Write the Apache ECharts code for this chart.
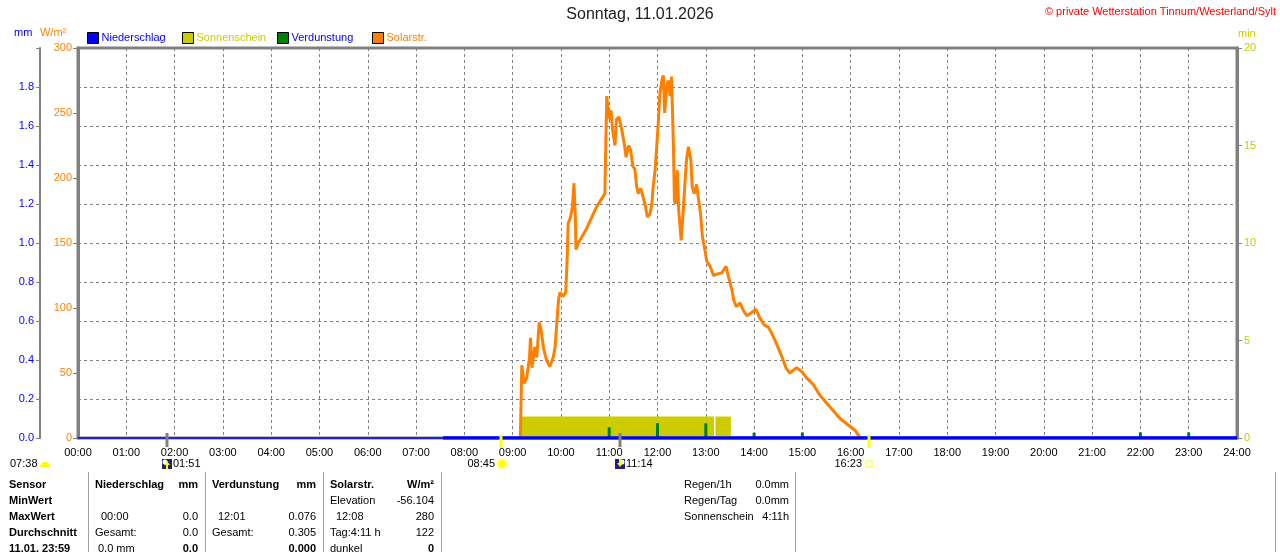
<!DOCTYPE html>
<html>
<head>
<meta charset="utf-8">
<script src="https://cdn.jsdelivr.net/npm/echarts@6/dist/echarts.min.js"></script>
<style>
  html, body { margin: 0; padding: 0; background: #fff; }
  #main { width: 1280px; height: 552px; }
</style>
</head>
<body>
<div id="main"></div>
<script>
// ---- data (time in decimal hours) ----

// Solarstrahlung W/m²  [hour, value]
const solarData = [
  [9.16, 0], [9.17, 1], [9.19, 56], [9.24, 42], [9.29, 46], [9.35, 62], [9.37, 77], [9.40, 54],
  [9.46, 70], [9.50, 62], [9.55, 89], [9.59, 83], [9.64, 69], [9.70, 60], [9.77, 55], [9.84, 62],
  [9.88, 70], [9.91, 86], [9.95, 106], [9.98, 112], [10.05, 109], [10.10, 112], [10.13, 138],
  [10.15, 165], [10.20, 170], [10.24, 178], [10.27, 196], [10.30, 169], [10.31, 145], [10.36, 150],
  [10.53, 161], [10.74, 178], [10.91, 188], [10.93, 227], [10.95, 263], [10.98, 250], [11.02, 245],
  [11.04, 252], [11.07, 237], [11.12, 225], [11.15, 245], [11.20, 247], [11.26, 237], [11.31, 227],
  [11.35, 216], [11.40, 225], [11.44, 222], [11.49, 209], [11.53, 207], [11.57, 193], [11.60, 188],
  [11.65, 192], [11.69, 187], [11.74, 180], [11.79, 170], [11.84, 172], [11.88, 179], [11.91, 193],
  [11.95, 206], [11.98, 222], [12.02, 245], [12.05, 265], [12.09, 275], [12.12, 279], [12.15, 250],
  [12.19, 270], [12.22, 275], [12.26, 263], [12.29, 278], [12.31, 252], [12.33, 224], [12.35, 183],
  [12.37, 180], [12.41, 206], [12.44, 175], [12.49, 152], [12.52, 168], [12.56, 191], [12.60, 214],
  [12.64, 224], [12.69, 214], [12.72, 193], [12.76, 188], [12.81, 195], [12.84, 186], [12.89, 173],
  [12.93, 155], [12.98, 145], [13.02, 136], [13.09, 132], [13.16, 125], [13.23, 126], [13.33, 127],
  [13.42, 132], [13.47, 124], [13.54, 114], [13.58, 106], [13.63, 101], [13.71, 104], [13.78, 98],
  [13.85, 94], [13.93, 96], [14.04, 99], [14.11, 93], [14.21, 87], [14.30, 85], [14.36, 81],
  [14.47, 72], [14.57, 63], [14.66, 54], [14.74, 50], [14.88, 54], [14.99, 51], [15.09, 46],
  [15.23, 41], [15.36, 33], [15.50, 27], [15.64, 21], [15.78, 15], [15.95, 10], [16.09, 6],
  [16.18, 1], [16.20, 0]
];

// Sonnenschein min  [from, to, value]
const sunData = [
  [9.17, 13.17, 1.1],
  [13.20, 13.52, 1.1]
];

// Verdunstung mm
const evapHours = [11, 12, 13, 14, 15, 22, 23];
const evapValues = [0.055, 0.076, 0.075, 0.027, 0.028, 0.029, 0.029];

// Niederschlag mm
const rainData = [[7.56, 0], [24, 0]];

// Sonne / Mond Auf- und Untergang
const astroHours = [1.85, 8.75, 11.23, 16.38];
const astroLabels = ['01:51', '08:45', '11:14', '16:23'];
const astroKinds = ['moonrise', 'sunrise', 'moonset', 'sunset'];

const FONT = 'Liberation Sans';
const GRID = '#808080';
const pad = (n) => (n < 10 ? '0' : '') + n;

const myChart = echarts.init(document.getElementById('main'), null, { renderer: 'canvas' });

function sunRender(params, api) {
  const s = api.coord([api.value(0), api.value(2)]);
  const e = api.coord([api.value(1), 0]);
  return {
    type: 'rect',
    shape: { x: s[0], y: s[1], width: e[0] - s[0], height: e[1] - s[1] },
    style: { fill: '#cccc00' }
  };
}

function astroRender(params, api) {
  const i = params.dataIndex;
  const p = api.coord([api.value(0), 0]);
  const x = Math.round(p[0]);
  const kind = astroKinds[i];
  const isMoon = kind.indexOf('moon') === 0;
  const children = [];
  children.push({
    type: 'rect',
    shape: { x: x - 1.5, y: isMoon ? p[1] - 5 : p[1] - 3, width: 3, height: isMoon ? 14 : 13 },
    style: { fill: isMoon ? GRID : '#ffff00' }
  });
  const ty = 464;
  if (kind === 'sunrise') {
    children.push({ type: 'circle', shape: { cx: x + 1, cy: ty, r: 6 }, style: { fill: 'rgba(255,255,120,0.5)' } });
    children.push({ type: 'circle', shape: { cx: x + 1, cy: ty, r: 4 }, style: { fill: '#ffff00' } });
    children.push({ type: 'text', style: { x: x - 6, y: ty, text: astroLabels[i], align: 'right', verticalAlign: 'middle', font: '11px ' + FONT, fill: '#000' } });
  } else if (kind === 'sunset') {
    children.push({ type: 'rect', shape: { x: x - 3, y: ty - 3, width: 6, height: 6 }, style: { fill: '#fff', stroke: '#ffff00', lineWidth: 1 } });
    children.push({ type: 'text', style: { x: x - 7, y: ty, text: astroLabels[i], align: 'right', verticalAlign: 'middle', font: '11px ' + FONT, fill: '#000' } });
  } else {
    const rise = kind === 'moonrise';
    children.push({ type: 'rect', shape: { x: x - 5, y: ty - 5, width: 10, height: 10 }, style: { fill: '#202080' } });
    children.push({ type: 'circle', shape: { cx: rise ? x - 2 : x + 2, cy: ty - 2, r: 2.5 }, style: { fill: '#ffffff' } });
    children.push({
      type: 'polygon',
      shape: { points: rise ? [[x, ty - 3], [x + 3, ty + 1], [x + 1, ty + 1], [x + 1, ty + 5], [x - 1, ty + 5], [x - 1, ty + 1], [x - 3, ty + 1]]
                            : [[x - 1, ty - 5], [x + 1, ty - 5], [x + 1, ty - 1], [x + 3, ty - 1], [x, ty + 3], [x - 3, ty - 1], [x - 1, ty - 1]] },
      style: { fill: '#ffff00' }
    });
    children.push({ type: 'text', style: { x: x + 6, y: ty, text: astroLabels[i], align: 'left', verticalAlign: 'middle', font: '11px ' + FONT, fill: '#000' } });
  }
  return { type: 'group', children };
}

// ---- texts and table below the chart ----
const graphics = [];
function txt(x, y, text, opt) {
  opt = opt || {};
  graphics.push({
    type: 'text', x, y, silent: true,
    style: {
      text, x: 0, y: 0,
      align: opt.align || 'left', verticalAlign: 'middle',
      font: (opt.bold ? 'bold ' : '') + (opt.size || 11) + 'px ' + FONT,
      fill: opt.color || '#000'
    }
  });
}
function vline(x, y1, y2, color) {
  graphics.push({ type: 'line', silent: true, shape: { x1: x, y1, x2: x, y2 }, style: { stroke: color || '#a0a0a0', lineWidth: 1 } });
}

txt(14, 33, 'mm', { color: '#0000ff' });
txt(40, 33, 'W/m²', { color: '#ff8000' });
txt(1238, 34, 'min', { color: '#cccc00' });
txt(1276, 12, '© private Wetterstation Tinnum/Westerland/Sylt', { color: '#ff0000', align: 'right' });

txt(10, 464, '07:38');
graphics.push({ type: 'sector', silent: true, shape: { cx: 45, cy: 467, r0: 0, r: 5, startAngle: Math.PI, endAngle: 2 * Math.PI }, style: { fill: '#ffff00' } });

[88, 205, 323, 441, 795, 1275].forEach((x) => vline(x + 0.5, 472, 552));

const rowY = [485, 501, 517, 533, 549];
const rowNames = ['Sensor', 'MinWert', 'MaxWert', 'Durchschnitt', '11.01. 23:59'];
rowNames.forEach((n, i) => txt(9, rowY[i], n, { bold: true }));

txt(95, rowY[0], 'Niederschlag', { bold: true });
txt(198, rowY[0], 'mm', { bold: true, align: 'right' });
txt(212, rowY[0], 'Verdunstung', { bold: true });
txt(316, rowY[0], 'mm', { bold: true, align: 'right' });
txt(330, rowY[0], 'Solarstr.', { bold: true });
txt(434, rowY[0], 'W/m²', { bold: true, align: 'right' });

txt(330, rowY[1], 'Elevation');
txt(434, rowY[1], '-56.104', { align: 'right' });

txt(101, rowY[2], '00:00');
txt(198, rowY[2], '0.0', { align: 'right' });
txt(218, rowY[2], '12:01');
txt(316, rowY[2], '0.076', { align: 'right' });
txt(336, rowY[2], '12:08');
txt(434, rowY[2], '280', { align: 'right' });

txt(95, rowY[3], 'Gesamt:');
txt(198, rowY[3], '0.0', { align: 'right' });
txt(212, rowY[3], 'Gesamt:');
txt(316, rowY[3], '0.305', { align: 'right' });
txt(330, rowY[3], 'Tag:4:11 h');
txt(434, rowY[3], '122', { align: 'right' });

txt(98, rowY[4], '0.0 mm');
txt(198, rowY[4], '0.0', { align: 'right', bold: true });
txt(316, rowY[4], '0.000', { align: 'right', bold: true });
txt(330, rowY[4], 'dunkel');
txt(434, rowY[4], '0', { align: 'right', bold: true });

txt(684, rowY[0], 'Regen/1h');
txt(789, rowY[0], '0.0mm', { align: 'right' });
txt(684, rowY[1], 'Regen/Tag');
txt(789, rowY[1], '0.0mm', { align: 'right' });
txt(684, rowY[2], 'Sonnenschein');
txt(789, rowY[2], '4:11h', { align: 'right' });

const legendItem = (name, left, color) => ({
  data: [name],
  left, top: 32,
  icon: 'rect', itemWidth: 11, itemHeight: 11,
  itemStyle: { borderColor: '#000', borderWidth: 1 },
  selectedMode: false,
  padding: 0,
  textStyle: { color, fontFamily: FONT, fontSize: 11, padding: [0, 0, 0, -2] }
});

const option = {
  animation: false,
  backgroundColor: '#fff',
  textStyle: { fontFamily: FONT },
  title: {
    text: 'Sonntag, 11.01.2026',
    left: 'center', top: 7, padding: 0,
    textStyle: { fontFamily: FONT, fontSize: 16, fontWeight: 'normal', color: '#202020' }
  },
  legend: [
    legendItem('Niederschlag', 87, '#0000ff'),
    legendItem('Sonnenschein', 182, '#cccc00'),
    legendItem('Verdunstung', 277, '#0000ff'),
    legendItem('Solarstr.', 372, '#ff8000')
  ],
  grid: {
    left: 78, right: 43, top: 48, bottom: 114,
    show: true, borderColor: GRID, borderWidth: 3, backgroundColor: 'transparent'
  },
  xAxis: {
    type: 'value', min: 0, max: 24, interval: 1,
    axisLine: { onZero: false, lineStyle: { color: '#0000ff', width: 1.5 } },
    axisTick: { show: false },
    axisLabel: { color: '#000', fontSize: 11, margin: 9, formatter: (v) => pad(v) + ':00' },
    splitLine: { show: true, lineStyle: { color: GRID, type: [3, 3], width: 1 } }
  },
  yAxis: [
    {
      type: 'value', min: 0, max: 2, interval: 0.2, position: 'left', offset: 38,
      axisLine: { show: true, onZero: false, lineStyle: { color: GRID, width: 2 } },
      axisTick: { show: true, length: 4, lineStyle: { color: GRID, width: 1 } },
      axisLabel: { color: '#0000ff', fontSize: 11, margin: 6, formatter: (v) => (v >= 1.99 ? '' : v.toFixed(1)) },
      splitLine: { show: true, lineStyle: { color: GRID, type: [3, 3], width: 1 } }
    },
    {
      type: 'value', min: 0, max: 300, interval: 50, position: 'left', offset: 0,
      axisLine: { show: true, onZero: false, lineStyle: { color: GRID, width: 3 } },
      axisTick: { show: true, length: 5, lineStyle: { color: GRID, width: 1 } },
      axisLabel: { color: '#ff8000', fontSize: 11, margin: 6 },
      splitLine: { show: false }
    },
    {
      type: 'value', min: 0, max: 20, interval: 5, position: 'right',
      axisLine: { show: true, onZero: false, lineStyle: { color: GRID, width: 3 } },
      axisTick: { show: true, length: 5, lineStyle: { color: GRID, width: 1 } },
      axisLabel: { color: '#cccc00', fontSize: 11, margin: 7 },
      splitLine: { show: false }
    }
  ],
  series: [
    {
      name: 'Sonnenschein', type: 'custom', yAxisIndex: 2,
      renderItem: sunRender, encode: { x: [0, 1], y: 2 },
      itemStyle: { color: '#cccc00' },
      data: sunData, z: 2
    },
    {
      name: 'Verdunstung', type: 'bar', yAxisIndex: 0, barWidth: 3,
      itemStyle: { color: '#008000' },
      data: evapHours.map((h, i) => [h, evapValues[i]]), z: 3
    },
    {
      name: 'Solarstr.', type: 'line', yAxisIndex: 1,
      showSymbol: false, symbol: 'none',
      lineStyle: { color: '#ff8000', width: 3 },
      itemStyle: { color: '#ff8000' },
      data: solarData, z: 4
    },
    {
      name: 'Niederschlag', type: 'line', yAxisIndex: 0,
      showSymbol: false, symbol: 'none',
      lineStyle: { color: '#0000ff', width: 3.5 },
      itemStyle: { color: '#0000ff' },
      data: rainData, z: 5
    },
    {
      name: 'astro', type: 'custom', yAxisIndex: 0, clip: false, silent: true,
      renderItem: astroRender, encode: { x: 0, y: 1 },
      data: astroHours.map((h) => [h, 0]), z: 6
    }
  ],
  graphic: graphics
};

myChart.setOption(option);
</script>
</body>
</html>
